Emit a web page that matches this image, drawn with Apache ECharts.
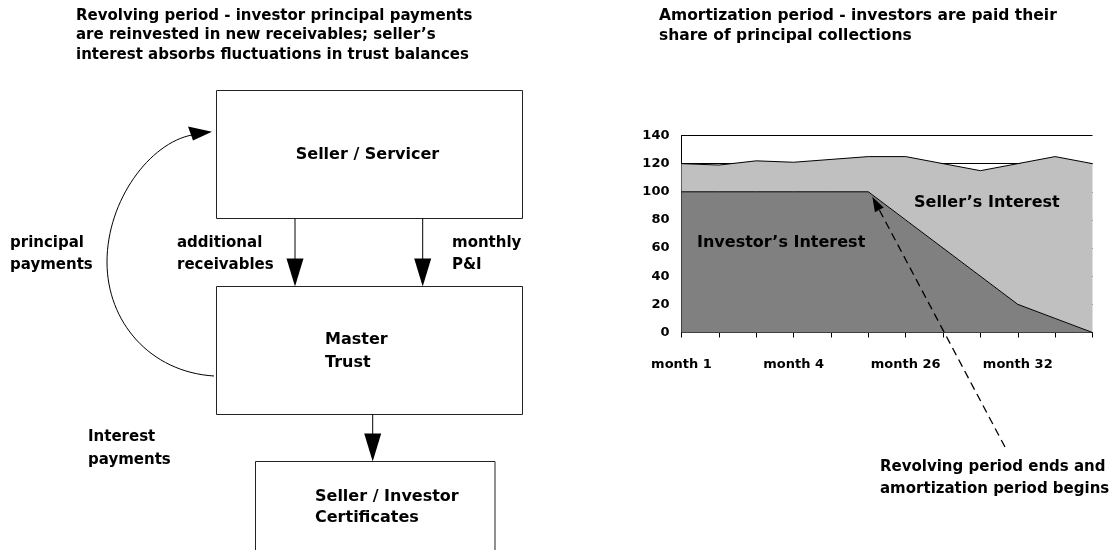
<!DOCTYPE html>
<html>
<head>
    <meta charset="utf-8">
    <title>Revolving and amortization period</title>
    <script src="https://cdn.jsdelivr.net/npm/echarts@6/dist/echarts.min.js"></script>
    <style>
        body { margin: 0; background: #fff; }
        #main { width: 1114px; height: 550px; }
    </style>
</head>
<body>
    <div id="main"></div>
    <script type="text/javascript">
        // chart data
        var periods = ['1', '2', '3', '4', '5', '6', '7', '8', '9', '10', '11', '12'];
        var tickLabels = ['month 1', '', '', 'month 4', '', '', 'month 26', '', '', 'month 32', '', ''];
        var investorInterest = [100, 100, 100, 100, 100, 100, 80, 60, 40, 20, 10, 0];
        var sellerInterest = [20, 19, 22, 21, 23, 25, 45, 60, 75, 100, 115, 120];

        var FONT = '"DejaVu Sans", sans-serif';

        function txt(x, y, text, size, extra) {
            var s = {
                x: x, y: y, text: text,
                fontFamily: FONT, fontWeight: 'bold', fontSize: size || 15,
                fill: '#000', verticalAlign: 'middle', lineHeight: 22
            };
            for (var k in extra) s[k] = extra[k];
            return { type: 'text', z: 100, style: s };
        }
        function box(x, y, w, h) {
            return { type: 'rect', z: 90, shape: { x: x, y: y, width: w, height: h },
                style: { fill: '#fff', stroke: '#222', lineWidth: 1 } };
        }
        function downArrow(x, y1, y2) {
            return [
                { type: 'line', z: 91, shape: { x1: x, y1: y1, x2: x, y2: y2 - 26 }, style: { stroke: '#000', lineWidth: 1 } },
                { type: 'polygon', z: 91, shape: { points: [[x - 8.5, y2 - 28], [x + 8.5, y2 - 28], [x, y2]] }, style: { fill: '#000' } }
            ];
        }

        // dashed pointer arrow
        var tail = [1005, 447], tip = [872.3, 196.7];
        var dx = tip[0] - tail[0], dy = tip[1] - tail[1];
        var len = Math.sqrt(dx * dx + dy * dy);
        var ux = dx / len, uy = dy / len;
        var bx = tip[0] - 15 * ux, by = tip[1] - 15 * uy;
        var px = -uy * 5, py = ux * 5;

        var graphics = [
            txt(76, 6, 'Revolving period - investor principal payments\nare reinvested in new receivables; seller\u2019s\ninterest absorbs fluctuations in trust balances', 15, { verticalAlign: 'top', lineHeight: 19.5 }),
            txt(659, 6, 'Amortization period - investors are paid their\nshare of principal collections', 15.5, { verticalAlign: 'top', lineHeight: 20 }),

            box(216.5, 90.5, 306, 128),
            box(216.5, 286.5, 306, 128),
            box(255.5, 461.5, 239.5, 110),

            txt(367.5, 155, 'Seller / Servicer', 16, { align: 'center' }),
            txt(325, 340, 'Master', 16),
            txt(325, 363, 'Trust', 16),
            txt(315, 497, 'Seller / Investor', 16),
            txt(315, 518, 'Certificates', 16),

            txt(10, 243, 'principal'),
            txt(10, 265, 'payments'),
            txt(177, 243, 'additional'),
            txt(177, 265, 'receivables'),
            txt(452, 243, 'monthly'),
            txt(452, 265, 'P&I'),
            txt(88, 437, 'Interest'),
            txt(88, 460, 'payments'),

            // curved return arrow
            { type: 'bezierCurve', z: 91, shape: { x1: 214, y1: 376, x2: 107, y2: 262, cpx1: 150, cpy1: 372, cpx2: 107, cpy2: 322 },
                style: { stroke: '#000', lineWidth: 1, fill: null } },
            { type: 'bezierCurve', z: 91, shape: { x1: 107, y1: 262, x2: 192, y2: 135, cpx1: 107, cpy1: 200, cpx2: 150, cpy2: 143 },
                style: { stroke: '#000', lineWidth: 1, fill: null } },
            { type: 'polygon', z: 91, shape: { points: [[188, 126.5], [193, 140.5], [212, 131.7]] }, style: { fill: '#000' } },

            // chart annotations
            txt(914, 203, 'Seller\u2019s Interest', 16),
            txt(697, 243, 'Investor\u2019s Interest', 16),
            { type: 'line', z: 95, shape: { x1: tail[0], y1: tail[1], x2: bx, y2: by },
                style: { stroke: '#000', lineWidth: 1.3, lineDash: [8, 5] } },
            { type: 'polygon', z: 95, shape: { points: [[tip[0], tip[1]], [bx + px, by + py], [bx - px, by - py]] }, style: { fill: '#000' } },
            txt(880, 467, 'Revolving period ends and'),
            txt(880, 489, 'amortization period begins')
        ];
        graphics = graphics.concat(downArrow(295, 218.5, 286.5), downArrow(422.7, 218.5, 286.5), downArrow(372.7, 414.5, 461.5));

        var myChart = echarts.init(document.getElementById('main'));
        var option = {
            animation: false,
            grid: { left: 681.5, right: 21.5, top: 135.5, bottom: 217.5 },
            xAxis: {
                type: 'category',
                data: periods,
                boundaryGap: false,
                axisLine: { lineStyle: { color: '#000', width: 1 } },
                axisTick: { show: true, interval: 0, length: 5, lineStyle: { color: '#000' } },
                axisLabel: {
                    interval: 0, margin: 26, color: '#000',
                    fontFamily: FONT, fontWeight: 'bold', fontSize: 13,
                    formatter: function (v, i) { return tickLabels[i]; }
                },
                splitLine: { show: false }
            },
            yAxis: {
                type: 'value',
                min: 0, max: 140, interval: 20,
                axisLine: { show: true, lineStyle: { color: '#000', width: 1 } },
                axisTick: { show: false },
                axisLabel: { margin: 12, color: '#000', fontFamily: FONT, fontWeight: 'bold', fontSize: 13 },
                splitLine: { show: true, lineStyle: { color: '#000', width: 1 } }
            },
            series: [
                {
                    name: 'Investor\u2019s Interest', type: 'line', stack: 'total', data: investorInterest,
                    symbol: 'none', lineStyle: { color: '#000', width: 1 },
                    areaStyle: { color: '#808080', opacity: 1 }
                },
                {
                    name: 'Seller\u2019s Interest', type: 'line', stack: 'total', data: sellerInterest,
                    symbol: 'none', lineStyle: { color: '#000', width: 1 },
                    areaStyle: { color: '#c0c0c0', opacity: 1 }
                }
            ],
            graphic: graphics
        };
        myChart.setOption(option);
    </script>
</body>
</html>
